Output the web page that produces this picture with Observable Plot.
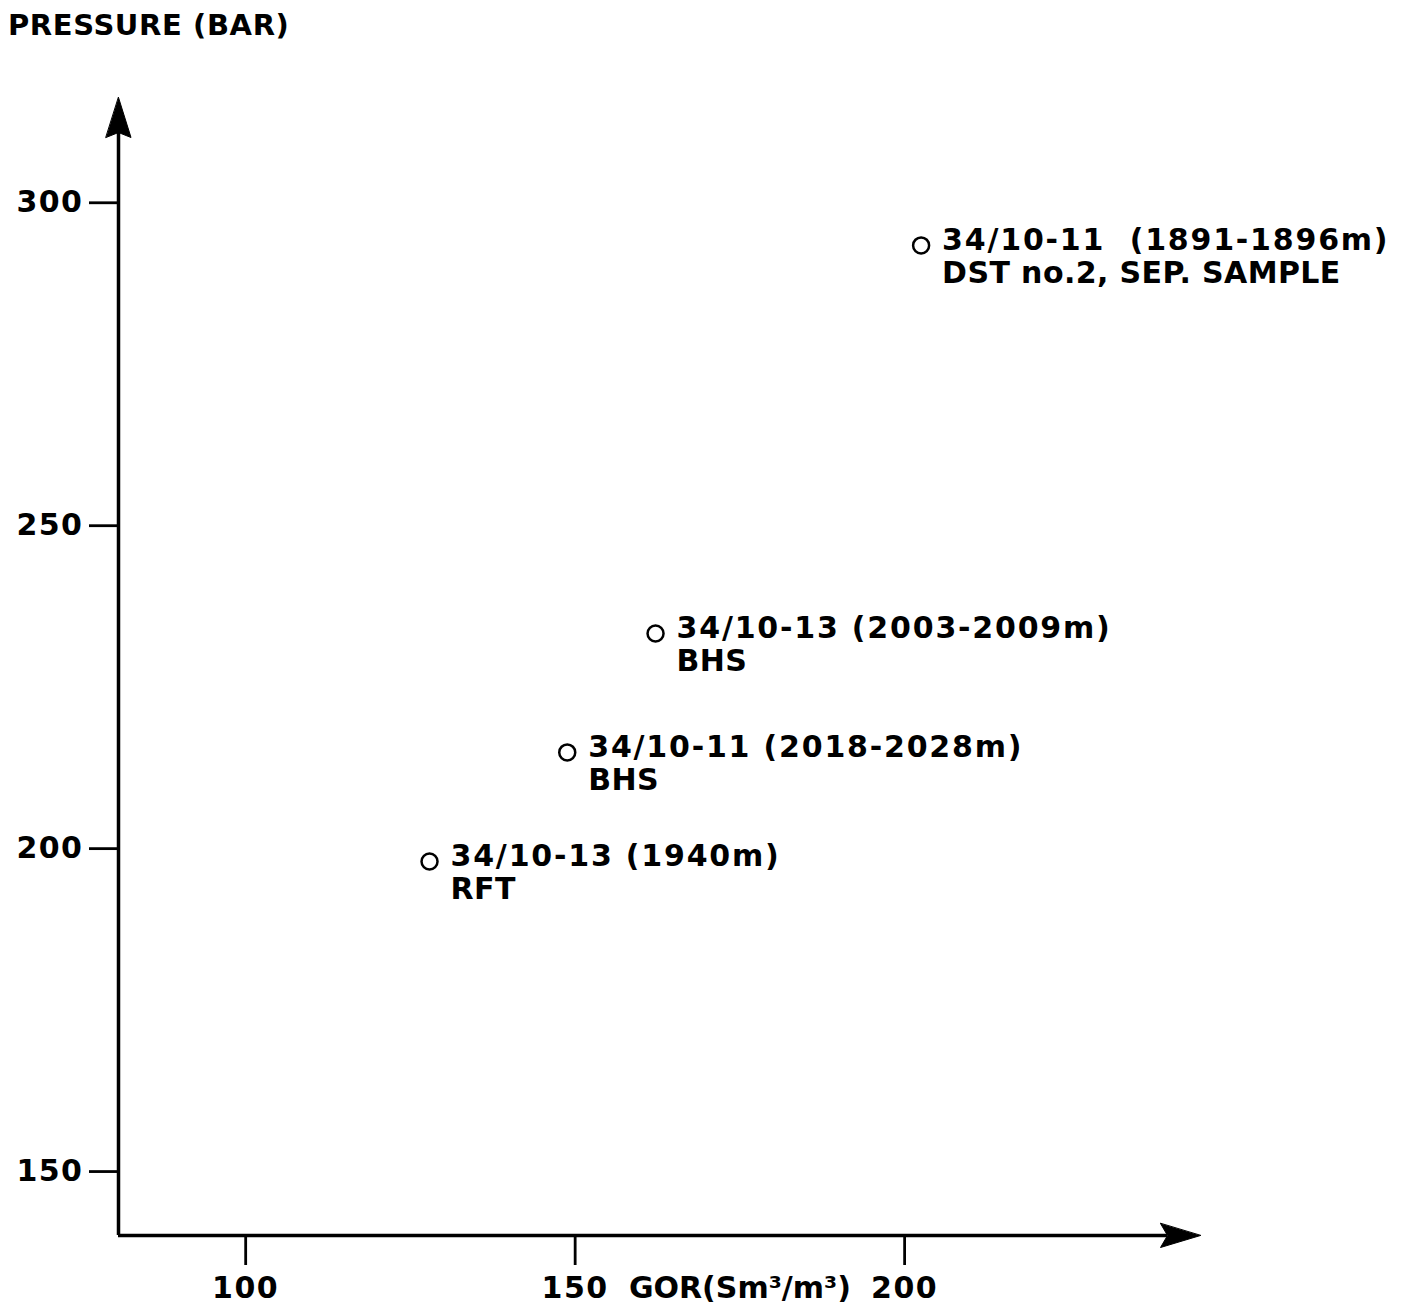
<!DOCTYPE html>
<html><head><meta charset="utf-8">
<script src="https://cdn.jsdelivr.net/npm/d3@7"></script>
<script src="https://cdn.jsdelivr.net/npm/@observablehq/plot@0.6"></script>
<style>
body{margin:0;background:#fff;}
#title{font-family:"DejaVu Sans",sans-serif;font-weight:bold;font-size:29px;letter-spacing:0.6px;height:50px;line-height:50px;padding-left:8px;color:#000;}
#chart svg text{letter-spacing:1.5px;}
#chart svg g.l1 text{letter-spacing:1.8px;}
#chart svg g.l2 text{letter-spacing:0.4px;}
#chart svg g.xt text{letter-spacing:0px;}
</style></head><body>
<div id="title">PRESSURE (BAR)</div>
<div id="chart"></div>
<script>
const wells = ["34/10-11  (1891-1896m)", "34/10-13 (2003-2009m)", "34/10-11 (2018-2028m)", "34/10-13 (1940m)"];
const samples = ["DST no.2, SEP. SAMPLE", "BHS", "BHS", "RFT"];
const gor = [202.5, 162.2, 148.8, 127.9];
const pressure = [293.4, 233.3, 214.9, 198.0];
const xTicks = [100, 150, 200];
const yTicks = [150, 200, 250, 300];
const xDomain = [80.7, 244.9];
const yDomain = [140.1, 316.3];
const xTitle = "GOR(Sm³/m³)";

const data = wells.map((w, i) => ({well: w, sample: samples[i], gor: gor[i], p: pressure[i]}));

const arrowHead = (w, notch) => ({
  draw(context, l) {
    context.moveTo(0, -l);
    context.lineTo(w, 0);
    context.lineTo(0, -notch);
    context.lineTo(-w, 0);
    context.closePath();
  }
});

const font = "DejaVu Sans, sans-serif";

const plot = Plot.plot({
  width: 1402,
  height: 1256,
  marginTop: 47,
  marginBottom: 71,
  marginLeft: 118,
  marginRight: 202,
  style: {fontFamily: font, fontSize: "30px", fontWeight: "bold", color: "black", background: "white"},
  x: {domain: xDomain},
  y: {domain: yDomain},
  marks: [
    Plot.ruleX([xDomain[0]], {x: d => d, y1: () => yDomain[0], y2: () => yDomain[1] - 5, stroke: "black", strokeWidth: 3.5}),
    Plot.ruleY([yDomain[0]], {y: d => d, x1: () => xDomain[0], x2: () => xDomain[1] - 5, stroke: "black", strokeWidth: 3.5}),
    Plot.vector([{x: xDomain[0], y: yDomain[1]}], {x: "x", y: "y", length: 40, anchor: "end", rotate: 0, shape: arrowHead(12.5, 5), fill: "black", stroke: "black", strokeWidth: 1}),
    Plot.vector([{x: xDomain[1], y: yDomain[0]}], {x: "x", y: "y", length: 40, anchor: "end", rotate: 90, shape: arrowHead(12, 7), fill: "black", stroke: "black", strokeWidth: 1}),
    Plot.axisY(yTicks, {anchor: "left", tickSize: 29, tickPadding: 6, strokeWidth: 2.8, label: null, fontSize: 30, tickFormat: d => String(d)}),
    Plot.axisX(xTicks, {anchor: "bottom", tickSize: 30, tickPadding: 11, strokeWidth: 2.8, label: null, fontSize: 30, tickFormat: d => String(d)}),
    Plot.text([xTitle], {x: () => (xTicks[1] + xTicks[2]) / 2, frameAnchor: "bottom", lineAnchor: "top", dy: 41, fontSize: 30, text: d => d, className: "xt"}),
    Plot.dot(data, {x: "gor", y: "p", r: 8, fill: "white", stroke: "black", strokeWidth: 2.5}),
    Plot.text(data, {x: "gor", y: "p", text: "well", textAnchor: "start", lineAnchor: "middle", dx: 21, dy: -5, fontSize: 30, className: "l1"}),
    Plot.text(data, {x: "gor", y: "p", text: "sample", textAnchor: "start", lineAnchor: "middle", dx: 21, dy: 28, fontSize: 30, className: "l2"})
  ]
});
document.getElementById("chart").appendChild(plot);
</script>
</body></html>
